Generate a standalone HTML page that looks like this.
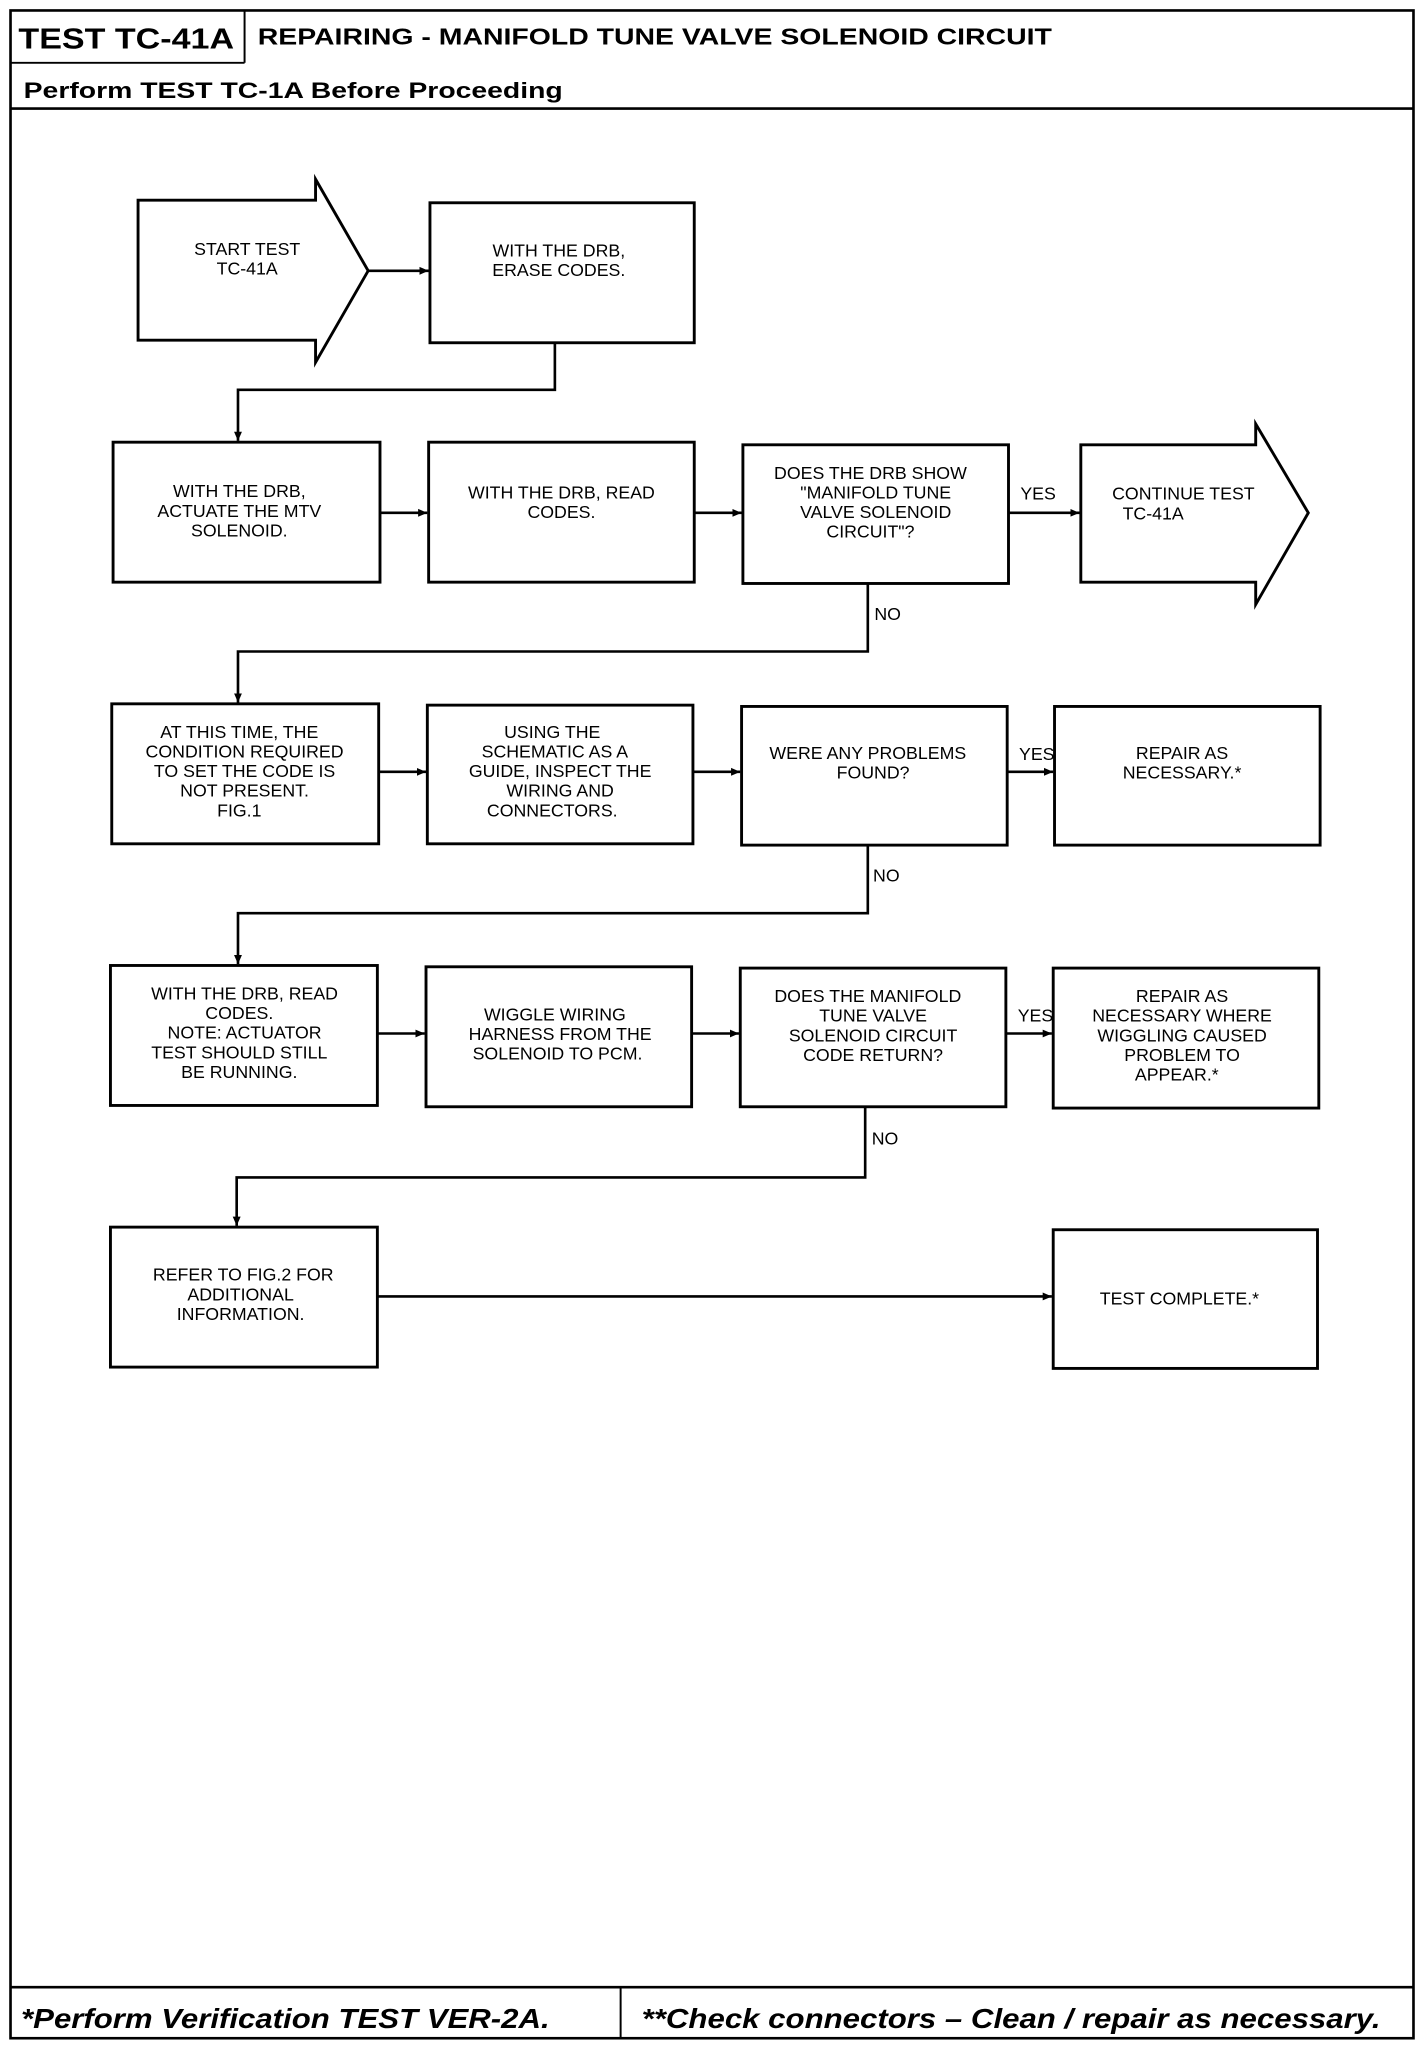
<!DOCTYPE html>
<html><head><meta charset="utf-8"><style>
html,body{margin:0;padding:0;background:#fff;}
svg{display:block;}
.b{fill:#fff;stroke:#000;stroke-width:2.2;}
.l{fill:none;stroke:#000;stroke-width:2;}
.t{font-family:"Liberation Sans",sans-serif;font-size:13.5px;text-anchor:middle;fill:#000;}
.lab{font-family:"Liberation Sans",sans-serif;font-size:13.5px;fill:#000;}
.h{font-family:"Liberation Sans",sans-serif;font-weight:bold;fill:#000;}
.f{font-family:"Liberation Sans",sans-serif;font-weight:bold;font-style:italic;font-size:21px;fill:#000;}
</style></head><body>
<svg width="1424" height="2050" viewBox="0 0 1083 1567" preserveAspectRatio="none" xmlns="http://www.w3.org/2000/svg">
<defs><marker id="a" markerWidth="8" markerHeight="8" refX="7" refY="4" orient="auto" markerUnits="userSpaceOnUse"><path d="M0,1 L7,4 L0,7 z" fill="#000"/></marker></defs>
<!-- frame -->
<rect x="8" y="8" width="1067" height="1550" fill="none" stroke="#000" stroke-width="2"/>
<line x1="8" y1="48" x2="186" y2="48" stroke="#000" stroke-width="1.5"/>
<line x1="186" y1="8" x2="186" y2="48" stroke="#000" stroke-width="1.5"/>
<line x1="8" y1="83" x2="1075" y2="83" stroke="#000" stroke-width="2"/>
<line x1="8" y1="1519" x2="1075" y2="1519" stroke="#000" stroke-width="2"/>
<line x1="472" y1="1519" x2="472" y2="1558" stroke="#000" stroke-width="1.5"/>
<text class="h" x="14" y="37" font-size="22" textLength="164" lengthAdjust="spacingAndGlyphs">TEST TC-41A</text>
<text class="h" x="196" y="34" font-size="18" textLength="604" lengthAdjust="spacingAndGlyphs">REPAIRING - MANIFOLD TUNE VALVE SOLENOID CIRCUIT</text>
<text class="h" x="18" y="75" font-size="17" textLength="410" lengthAdjust="spacingAndGlyphs">Perform TEST TC-1A Before Proceeding</text>
<text class="f" x="16" y="1550" textLength="402" lengthAdjust="spacingAndGlyphs">*Perform Verification TEST VER-2A.</text>
<text class="f" x="488" y="1550" textLength="562" lengthAdjust="spacingAndGlyphs">**Check connectors – Clean / repair as necessary.</text>

<!-- row 1 -->
<path class="b" d="M105,153 L240,153 L240,137 L280,207 L240,277 L240,260 L105,260 Z"/>
<text class="t" x="188" y="195">START TEST</text><text class="t" x="188" y="210">TC-41A</text>
<rect class="b" x="327" y="155" width="201" height="107"/>
<text class="t" x="425" y="196">WITH THE DRB,</text><text class="t" x="425" y="211">ERASE CODES.</text>
<line class="l" x1="280" y1="207" x2="326" y2="207" marker-end="url(#a)"/>
<polyline class="l" points="422,262 422,298 181,298 181,337" marker-end="url(#a)"/>

<!-- row 2 -->
<rect class="b" x="86" y="338" width="203" height="107"/>
<text class="t" x="182" y="380">WITH THE DRB,</text><text class="t" x="182" y="395">ACTUATE THE MTV</text><text class="t" x="182" y="410">SOLENOID.</text>
<rect class="b" x="326" y="338" width="202" height="107"/>
<text class="t" x="427" y="381">WITH THE DRB, READ</text><text class="t" x="427" y="396">CODES.</text>
<rect class="b" x="565" y="340" width="202" height="106"/>
<text class="t" x="662" y="366">DOES THE DRB SHOW</text><text class="t" x="666" y="381">"MANIFOLD TUNE</text><text class="t" x="666" y="396">VALVE SOLENOID</text><text class="t" x="662" y="411">CIRCUIT"?</text>
<path class="b" d="M822,340 L955,340 L955,324 L995,392 L955,462 L955,445 L822,445 Z"/>
<text class="t" x="900" y="382">CONTINUE TEST</text><text class="t" x="877" y="397">TC-41A</text>
<line class="l" x1="289" y1="392" x2="325" y2="392" marker-end="url(#a)"/>
<line class="l" x1="528" y1="392" x2="564" y2="392" marker-end="url(#a)"/>
<line class="l" x1="767" y1="392" x2="821" y2="392" marker-end="url(#a)" stroke-width="2.5"/>
<text class="lab" x="776" y="382">YES</text>
<polyline class="l" points="660,446 660,498 181,498 181,537" marker-end="url(#a)"/>
<text class="lab" x="665" y="474">NO</text>

<!-- row 3 -->
<rect class="b" x="85" y="538" width="203" height="107"/>
<text class="t" x="182" y="564">AT THIS TIME, THE</text><text class="t" x="186" y="579">CONDITION REQUIRED</text><text class="t" x="186" y="594">TO SET THE CODE IS</text><text class="t" x="186" y="609">NOT PRESENT.</text><text class="t" x="182" y="624">FIG.1</text>
<rect class="b" x="325" y="539" width="202" height="106"/>
<text class="t" x="420" y="564">USING THE</text><text class="t" x="422" y="579">SCHEMATIC AS A</text><text class="t" x="426" y="594">GUIDE, INSPECT THE</text><text class="t" x="426" y="609">WIRING AND</text><text class="t" x="420" y="624">CONNECTORS.</text>
<rect class="b" x="564" y="540" width="202" height="106"/>
<text class="t" x="660" y="580">WERE ANY PROBLEMS</text><text class="t" x="664" y="595">FOUND?</text>
<rect class="b" x="802" y="540" width="202" height="106"/>
<text class="t" x="899" y="580">REPAIR AS</text><text class="t" x="899" y="595">NECESSARY.*</text>
<line class="l" x1="288" y1="590" x2="324" y2="590" marker-end="url(#a)"/>
<line class="l" x1="527" y1="590" x2="563" y2="590" marker-end="url(#a)"/>
<line class="l" x1="766" y1="590" x2="801" y2="590" marker-end="url(#a)" stroke-width="2.5"/>
<text class="lab" x="775" y="581">YES</text>
<polyline class="l" points="660,646 660,698 181,698 181,737" marker-end="url(#a)"/>
<text class="lab" x="664" y="674">NO</text>

<!-- row 4 -->
<rect class="b" x="84" y="738" width="203" height="107"/>
<text class="t" x="186" y="764">WITH THE DRB, READ</text><text class="t" x="182" y="779">CODES.</text><text class="t" x="186" y="794">NOTE: ACTUATOR</text><text class="t" x="182" y="809">TEST SHOULD STILL</text><text class="t" x="182" y="824">BE RUNNING.</text>
<rect class="b" x="324" y="739" width="202" height="107"/>
<text class="t" x="422" y="780">WIGGLE WIRING</text><text class="t" x="426" y="795">HARNESS FROM THE</text><text class="t" x="424" y="810">SOLENOID TO PCM.</text>
<rect class="b" x="563" y="740" width="202" height="106"/>
<text class="t" x="660" y="766">DOES THE MANIFOLD</text><text class="t" x="664" y="781">TUNE VALVE</text><text class="t" x="664" y="796">SOLENOID CIRCUIT</text><text class="t" x="664" y="811">CODE RETURN?</text>
<rect class="b" x="801" y="740" width="202" height="107"/>
<text class="t" x="899" y="766">REPAIR AS</text><text class="t" x="899" y="781">NECESSARY WHERE</text><text class="t" x="899" y="796">WIGGLING CAUSED</text><text class="t" x="899" y="811">PROBLEM TO</text><text class="t" x="895" y="826">APPEAR.*</text>
<line class="l" x1="287" y1="790" x2="323" y2="790" marker-end="url(#a)"/>
<line class="l" x1="526" y1="790" x2="562" y2="790" marker-end="url(#a)"/>
<line class="l" x1="765" y1="790" x2="800" y2="790" marker-end="url(#a)" stroke-width="2.5"/>
<text class="lab" x="774" y="781">YES</text>
<polyline class="l" points="658,846 658,900 180,900 180,937" marker-end="url(#a)"/>
<text class="lab" x="663" y="875">NO</text>

<!-- row 5 -->
<rect class="b" x="84" y="938" width="203" height="107"/>
<text class="t" x="185" y="979">REFER TO FIG.2 FOR</text><text class="t" x="183" y="994">ADDITIONAL</text><text class="t" x="183" y="1009">INFORMATION.</text>
<rect class="b" x="801" y="940" width="201" height="106"/>
<text class="t" x="897" y="997">TEST COMPLETE.*</text>
<line class="l" x1="287" y1="991" x2="800" y2="991" marker-end="url(#a)"/>
</svg>
</body></html>
